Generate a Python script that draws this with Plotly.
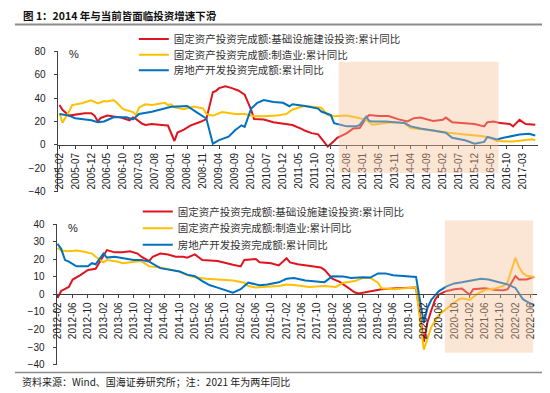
import plotly.graph_objects as go

W, H = 550, 393

# ---------------- data ----------------
series_names = [
    "固定资产投资完成额:基础设施建设投资:累计同比",
    "固定资产投资完成额:制造业:累计同比",
    "房地产开发投资完成额:累计同比",
]
series_colors = ["#E0141E", "#FFC000", "#0070C0"]

# top panel: 2005-02 .. 2017-07
top_infra_dates = ["2005-02","2005-03","2005-05","2005-07","2005-10","2005-12","2006-01","2006-02","2006-03","2006-05",
                   "2006-07","2006-09","2006-12","2007-01","2007-02","2007-04","2007-05","2007-07","2007-10","2007-12",
                   "2008-02","2008-03","2008-05","2008-07","2008-10","2008-12","2009-02","2009-03","2009-04","2009-06",
                   "2009-08","2009-10","2009-12","2010-02","2010-03","2010-06","2010-09","2010-12","2011-03","2011-06",
                   "2011-07","2011-09","2011-11","2011-12","2012-02","2012-04","2012-05","2012-08","2012-10","2012-12",
                   "2013-02","2013-03","2013-06","2013-09","2013-11","2013-12","2014-03","2014-05","2014-07","2014-11",
                   "2015-02","2015-03","2015-05","2015-09","2015-12","2016-03","2016-04","2016-06","2016-08","2016-11",
                   "2016-12","2017-02","2017-04","2017-07"]
top_infra = [34,30,25,26,27,27,25,20,23,25,
             24,23.5,21,23.5,22,18,17,17.8,17,16.5,
             3.3,10.5,13,16.5,19.5,22,45,46,48.5,50,
             48.5,46.5,43,30,22,21.7,19.4,18,17,13.5,
             12,10,9,5.5,-1.5,3.3,6,10,14,14.4,
             23,25.5,24.7,24.7,22.8,22,20,22.8,23.3,20.5,
             21.4,23.3,19.4,18.6,17.8,15.8,19.4,20,18.6,17.8,
             15.8,21.4,17.8,17.2]

top_mfg_dates = ["2005-02","2005-03","2005-05","2005-06","2005-09","2005-12","2006-02","2006-04","2006-05","2006-07",
                 "2006-08","2006-10","2007-01","2007-02","2007-03","2007-05","2007-07","2007-11","2007-12","2008-01",
                 "2008-02","2008-05","2008-08","2008-11","2008-12","2009-02","2009-05","2009-09","2009-12","2010-03",
                 "2010-06","2010-10","2011-01","2011-03","2011-06","2011-07","2011-12","2012-02","2012-04","2012-08",
                 "2012-12","2013-02","2013-04","2013-07","2013-10","2014-02","2014-04","2014-09","2015-02","2015-04",
                 "2015-09","2016-02","2016-05","2016-07","2016-12","2017-04","2017-06","2017-07"]
top_mfg = [27,19,28,34,35.5,38,35.5,37.5,37,38.3,
           36,30.5,28,25.5,32,34.7,34,36,34,34.7,
           32,30.5,32.8,31,26.4,25,28,26.4,26.4,24.4,
           24.4,25,26.4,30,32.8,33.3,31.7,25.5,24.4,25,
           22.8,21.4,17.2,18.3,19.4,18.6,14.4,13,11,10.3,
           8.9,7.5,6,3.3,2.8,3.9,4.7,3.9]

top_re_dates = ["2005-02","2005-05","2005-07","2005-10","2005-12","2006-02","2006-04","2006-07","2006-11","2007-01",
                "2007-03","2007-07","2007-11","2008-01","2008-03","2008-06","2008-09","2008-12","2009-02","2009-04",
                "2009-07","2009-09","2009-11","2009-12","2010-02","2010-04","2010-06","2010-09","2010-12","2011-02",
                "2011-03","2011-05","2011-07","2011-11","2011-12","2012-03","2012-04","2012-08","2012-11","2012-12",
                "2013-02","2013-03","2013-04","2013-08","2013-11","2014-02","2014-04","2014-07","2014-11","2015-03",
                "2015-05","2015-09","2015-12","2016-03","2016-04","2016-07","2016-09","2017-02","2017-05","2017-07"]
top_re = [26.4,25,22.8,21.7,21,19.4,20,23.6,23.6,21.7,
          26.4,28.3,31,32.5,32.8,33.3,27.8,22.5,1,4,
          7,12.5,16.7,15.3,31,36,38.3,36.7,36,33,
          34.7,34,33.3,31,28.5,25.5,18.6,15.8,15.8,17,
          24,20.5,20,20,19.4,18.6,15.8,13.9,12.2,10.3,
          6,3.9,1,2.5,6.7,4.7,6,8.9,9.4,8]

# bottom panel: 2012-02 .. 2022-07 (2021 = two-year comparison)
bot_infra_dates = ["2012-02","2012-03","2012-05","2012-06","2012-08","2012-10","2012-12","2013-02","2013-03","2013-05",
                   "2013-07","2013-09","2013-11","2013-12","2014-02","2014-03","2014-05","2014-07","2014-09","2014-11",
                   "2014-12","2015-02","2015-04","2015-08","2015-10","2015-12","2016-02","2016-03","2016-06","2016-07",
                   "2016-10","2016-12","2017-02","2017-03","2017-05","2017-08","2017-11","2017-12","2018-02","2018-04",
                   "2018-06","2018-08","2018-09","2018-12","2019-03","2019-07","2019-12","2020-02","2020-03","2020-04",
                   "2020-05","2020-06","2020-07","2020-08","2020-09","2020-10","2020-12","2021-02","2021-03","2021-06",
                   "2021-09","2021-11","2021-12","2022-02","2022-03","2022-05","2022-07"]
bot_infra = [-2,2,4.3,8.5,11,14,14.6,22,25.3,24,
             24,24.6,23.3,21.5,19,21.5,23.3,22.8,21.5,21.5,
             21,22.8,19.6,19,17.8,16.9,16,19.6,20.2,18.3,
             17.8,16.5,20.6,18.3,17.2,16.5,15.4,14,9,7.2,
             3.9,1.1,0.5,1.7,3,3.5,3.9,-27,-16,-9,
             -3,0,1.2,2,2.4,3,3.4,-0.2,3,3.5,
             2.6,2.4,3,10.5,8.5,8.5,10]

bot_mfg_dates = ["2012-02","2012-03","2012-05","2012-07","2012-09","2012-11","2012-12","2013-02","2013-03","2013-06",
                 "2013-07","2013-10","2013-12","2014-02","2014-05","2014-08","2014-10","2014-12","2015-02","2015-05",
                 "2015-08","2015-12","2016-03","2016-04","2016-06","2016-09","2016-12","2017-02","2017-04","2017-08",
                 "2017-12","2018-03","2018-05","2018-08","2018-10","2018-12","2019-02","2019-03","2019-06","2019-09",
                 "2019-12","2020-02","2020-03","2020-04","2020-06","2020-09","2020-11","2020-12","2021-02","2021-04",
                 "2021-06","2021-09","2021-11","2021-12","2022-02","2022-03","2022-04","2022-05","2022-06","2022-07"]
bot_mfg = [26.5,25,24.6,25,24.3,23.3,21.5,18.3,19.6,18.7,
           17.8,18.7,19,16,15.4,14,13.1,11,9.8,9,
           8.5,8,6.7,4.8,3.9,4.3,4.8,5.7,5.4,4.3,
           4.8,4.3,6.7,7.6,9.4,9.4,6.7,3.5,3,3.5,
           3.9,-31.5,-25,-18.5,-11.5,-6.5,-3,-2.2,-3.1,0.2,
           2.5,3.5,5,7,20.9,15.6,12.2,10.6,10.4,10]

bot_re_dates = ["2012-02","2012-03","2012-04","2012-05","2012-07","2012-10","2012-11","2012-12","2013-02","2013-03",
                "2013-05","2013-07","2013-10","2013-12","2014-02","2014-05","2014-08","2014-10","2014-12","2015-02",
                "2015-04","2015-06","2015-08","2015-10","2015-12","2016-02","2016-04","2016-07","2016-09","2016-12",
                "2017-02","2017-04","2017-07","2017-12","2018-02","2018-05","2018-07","2018-10","2018-12","2019-02",
                "2019-04","2019-06","2019-09","2019-12","2020-02","2020-03","2020-04","2020-05","2020-06","2020-08",
                "2020-10","2020-12","2021-03","2021-05","2021-07","2021-10","2021-12","2022-02","2022-03","2022-04",
                "2022-05","2022-06","2022-07"]
bot_re = [28.9,26,19.6,18.7,16,16,17.8,17.2,23.3,21,
          21.5,20.6,19.6,19.6,18.7,15,14,13.1,11.3,10.4,
          7.6,5.2,3.9,2.4,1,3,6.7,5.3,5.7,6.9,
          8.9,9.3,7.9,7,10.4,10.2,9.4,9.8,9.6,12,
          12,10.9,10.6,10,-16.3,-7.7,-3,-0.3,1.9,4.6,
          6.3,7,8,9,8.5,7,5.7,3.7,0.7,-2.7,
          -4,-5.4,-6.4]

# shaded periods and their value spans
top_shade_x = ["2012-05-15", "2016-07-15"]
top_shade_y = [-24, 71]
bot_shade_x = ["2020-07-18", "2022-06-22"]
bot_shade_y = [-33.3, 42.2]

top_yrange = [-40, 80]
bot_yrange = [-40, 40]

# ---------------- layout geometry ----------------
def px_y(p):
    return 1 - p / H

top_ydom = [px_y(191.5), px_y(47.5)]
bot_ydom = [px_y(369), px_y(225)]
top_xdom = [53 / W, 538 / W]
bot_xdom = [52 / W, 537 / W]


def val2paper(v, dom, rng):
    return dom[0] + (v - rng[0]) / (rng[1] - rng[0]) * (dom[1] - dom[0])


TICKFONT = dict(family="Liberation Sans, Arial, sans-serif", size=10, color="#222222")
CJK = "Noto Sans CJK SC, sans-serif"

fig = go.Figure()

top_data = [(top_infra_dates, top_infra), (top_mfg_dates, top_mfg), (top_re_dates, top_re)]
bot_data = [(bot_infra_dates, bot_infra), (bot_mfg_dates, bot_mfg), (bot_re_dates, bot_re)]

# one legend per entry so the rows can sit as tightly as in the reference
top_leg_y = [35, 51, 67]
bot_leg_y = [212, 229, 246]
legend_layout = {}
for i, ((d, v), name, col) in enumerate(zip(top_data, series_names, series_colors)):
    lid = "legend" if i == 0 else f"legend{i + 1}"
    fig.add_trace(go.Scatter(x=d, y=v, mode="lines", name=name,
                             line=dict(color=col, width=2),
                             xaxis="x", yaxis="y", legend=lid))
    legend_layout[lid] = dict(x=130 / W, y=px_y(top_leg_y[i]), xanchor="left", yanchor="middle",
                              bgcolor="rgba(0,0,0,0)", borderwidth=0,
                              font=dict(family=CJK, size=10.5, color="#333333"), itemwidth=30)
for i, ((d, v), name, col) in enumerate(zip(bot_data, series_names, series_colors)):
    lid = f"legend{i + 4}"
    fig.add_trace(go.Scatter(x=d, y=v, mode="lines", name=name,
                             line=dict(color=col, width=2),
                             xaxis="x2", yaxis="y2", legend=lid))
    legend_layout[lid] = dict(x=134 / W, y=px_y(bot_leg_y[i]), xanchor="left", yanchor="middle",
                              bgcolor="rgba(0,0,0,0)", borderwidth=0,
                              font=dict(family=CJK, size=10.5, color="#333333"), itemwidth=30)

axis_common = dict(showgrid=False, zeroline=False, showline=True, linecolor="#404040",
                   linewidth=1, ticks="outside", ticklen=3, tickcolor="#404040",
                   tickfont=TICKFONT)

fig.update_layout(
    width=W, height=H,
    margin=dict(l=0, r=0, t=0, b=0),
    paper_bgcolor="white", plot_bgcolor="rgba(0,0,0,0)",
    xaxis=dict(axis_common, domain=top_xdom, type="date",
               range=["2005-01-13", "2017-07-28"],
               anchor="free", position=val2paper(0, top_ydom, top_yrange),
               tick0="2005-02-01", dtick="M5", tickformat="%Y-%m", tickangle=-90),
    yaxis=dict(axis_common, domain=top_ydom, range=top_yrange, dtick=20,
               anchor="x", ticklabelstandoff=6),
    xaxis2=dict(axis_common, domain=bot_xdom, type="date",
                range=["2012-01-24", "2022-07-24"],
                anchor="free", position=val2paper(0, bot_ydom, bot_yrange),
                tick0="2012-02-01", dtick="M4", tickformat="%Y-%m", tickangle=-90),
    yaxis2=dict(axis_common, domain=bot_ydom, range=bot_yrange, dtick=10,
                anchor="x2", ticklabelstandoff=6),
    showlegend=True,
    **legend_layout,
)

# shaded periods (drawn above the lines, semi-transparent)
for xr, yr, xa, dom, rng in [(top_shade_x, top_shade_y, "x", top_ydom, top_yrange),
                             (bot_shade_x, bot_shade_y, "x2", bot_ydom, bot_yrange)]:
    fig.add_shape(type="rect", xref=xa, yref="paper",
                  x0=xr[0], x1=xr[1],
                  y0=val2paper(yr[0], dom, rng), y1=val2paper(yr[1], dom, rng),
                  fillcolor="rgba(245,190,150,0.4)", line=dict(width=0), layer="above")

# header / footer rules
fig.add_shape(type="line", xref="paper", yref="paper", x0=10 / W, x1=542 / W,
              y0=px_y(20), y1=px_y(20), line=dict(color="#8c8c8c", width=2))
fig.add_shape(type="line", xref="paper", yref="paper", x0=10 / W, x1=542 / W,
              y0=px_y(377), y1=px_y(377), line=dict(color="#8c8c8c", width=1.5))

# texts
fig.add_annotation(text="<b>图 1：2014 年与当前皆面临投资增速下滑</b>", xref="paper", yref="paper",
                   x=16 / W, y=px_y(11), xanchor="left", yanchor="middle", showarrow=False,
                   font=dict(family=CJK, size=10.5, color="#111111"))
fig.add_annotation(text="资料来源：Wind、国海证券研究所；注：2021 年为两年同比", xref="paper", yref="paper",
                   x=15 / W, y=px_y(386), xanchor="left", yanchor="middle", showarrow=False,
                   font=dict(family=CJK, size=10, color="#222222"))
fig.add_annotation(text="%", xref="paper", yref="paper", x=70 / W, y=px_y(50),
                   xanchor="center", yanchor="middle", showarrow=False,
                   font=dict(family="Liberation Sans, Arial", size=11, color="#222222"))
fig.add_annotation(text="%", xref="paper", yref="paper", x=69 / W, y=px_y(229),
                   xanchor="center", yanchor="middle", showarrow=False,
                   font=dict(family="Liberation Sans, Arial", size=11, color="#222222"))

fig.write_html("out.html", config={"displayModeBar": False},
               post_script="document.body.style.margin='0';document.body.style.padding='0';")
